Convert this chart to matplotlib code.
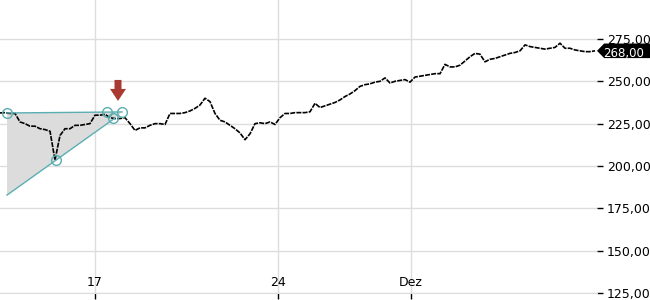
import matplotlib
matplotlib.use("Agg")
import matplotlib.pyplot as plt
from matplotlib.patches import Polygon
import numpy as np

# intraday prices, one value per bar
prices = [231.3, 231.5, 231, 231, 226, 225, 223.5, 223.5, 222, 221.5,
          220.5, 203.5, 218, 222, 222, 224, 224, 224.5, 225, 230,
          230, 230.5, 228.5, 228, 228, 228.5, 225, 221, 222.5, 222.5,
          224, 225, 225, 224.5, 231, 231, 231, 231.5, 232.5, 234,
          236, 240, 238, 231, 227, 226, 224, 222, 219.5, 215.5,
          219, 225, 225.5, 225, 226, 224.5, 228.5, 231, 231, 231.5,
          231.5, 231.5, 232, 237, 234.5, 235.5, 236.5, 237.5, 239, 241,
          242.5, 244.5, 247, 248, 248.5, 249.5, 250, 252, 249, 250,
          250.5, 251, 249.5, 252.5, 253, 253.5, 254, 254.5, 254.5, 260,
          258.5, 258.5, 259.5, 262, 264.5, 266.5, 266, 261.5, 263, 263.5,
          264.5, 265.5, 266.5, 267, 268, 271.5, 270.5, 270, 269.5, 269,
          269.5, 270, 272.5, 269.5, 269.5, 268.5, 268, 267.5, 267.5, 268]
last_price = 268.00

xtick_pos = [19, 55.6, 82.2]
xtick_labels = ["17", "24", "Dez"]
yticks = [125, 150, 175, 200, 225, 250, 275]

# triangle pattern drawn on the chart
tri_top = ([1.4, 24.4], [231.3, 231.9])
tri_low = ([1.4, 23.0], [182.8, 228.3])
tri_fill = [(1.4, 231.3), (24.4, 231.9), (23.0, 228.3), (1.4, 182.8)]
tri_pts_x = [1.4, 11.2, 21.4, 22.6, 24.4]
tri_pts_y = [231.3, 203.5, 231.9, 228.3, 231.9]

teal = "#5aaeb2"
grid_c = "#dddddd"

fig = plt.figure(figsize=(6.5, 3.0), dpi=100)
ax = fig.add_axes([0, 7 / 300, 597 / 650, 293 / 300])

x = np.arange(len(prices))
ax.set_xlim(0, 119.4)
ax.set_ylim(125, 298)

# grid
for yv in yticks:
    ax.axhline(yv, color=grid_c, lw=1, zorder=0)
for xv in xtick_pos:
    ax.axvline(xv, color=grid_c, lw=1, zorder=0)

# triangle
ax.add_patch(Polygon(tri_fill, closed=True, fc="#dcdcdc", ec="none", zorder=1))
ax.plot(*tri_top, color=teal, lw=1, zorder=3)
ax.plot(*tri_low, color=teal, lw=1, zorder=3)
ax.plot(tri_pts_x, tri_pts_y, "o", mfc="none", mec=teal, ms=7, mew=1, zorder=4)

# price
ax.plot(x, prices, color="black", lw=1.2, ls=(0, (3, 0.7)), zorder=2)

# red down arrow
ax.add_patch(Polygon([(22.9, 250.8), (24.3, 250.8), (24.3, 245.5), (25.2, 245.5),
                      (23.6, 238.4), (22.0, 245.5), (22.9, 245.5)],
                     closed=True, fc="#a83a32", ec="none", zorder=5))

# axes styling
for s in ["top", "left", "right"]:
    ax.spines[s].set_visible(False)
ax.spines["bottom"].set_color(grid_c)

ax.yaxis.tick_right()
ax.set_yticks(yticks)
ax.set_yticklabels([("%.2f" % v).replace(".", ",") for v in yticks], fontsize=9)
ax.tick_params(axis="y", length=4, width=1, color="black", pad=3, direction="out")

ax.set_xticks(xtick_pos)
ax.set_xticklabels([])
ax.tick_params(axis="x", length=4, width=1, color="black", direction="out")
for xv, lab in zip(xtick_pos, xtick_labels):
    ax.text(xv, 127.5, lab, ha="center", va="bottom", fontsize=9)

# last price tag
tr = ax.get_yaxis_transform()
h = 4.3
ax.add_patch(Polygon([(1.0, last_price), (1.012, last_price + h), (1.095, last_price + h),
                      (1.095, last_price - h), (1.012, last_price - h)],
                     closed=True, fc="black", ec="none", transform=tr, clip_on=False, zorder=6))
ax.text(1.01, last_price - 1.3, ("%.2f" % last_price).replace(".", ","), color="white",
        fontsize=8.5, va="center", ha="left", transform=tr, zorder=7)

fig.savefig("out.png", dpi=100)
